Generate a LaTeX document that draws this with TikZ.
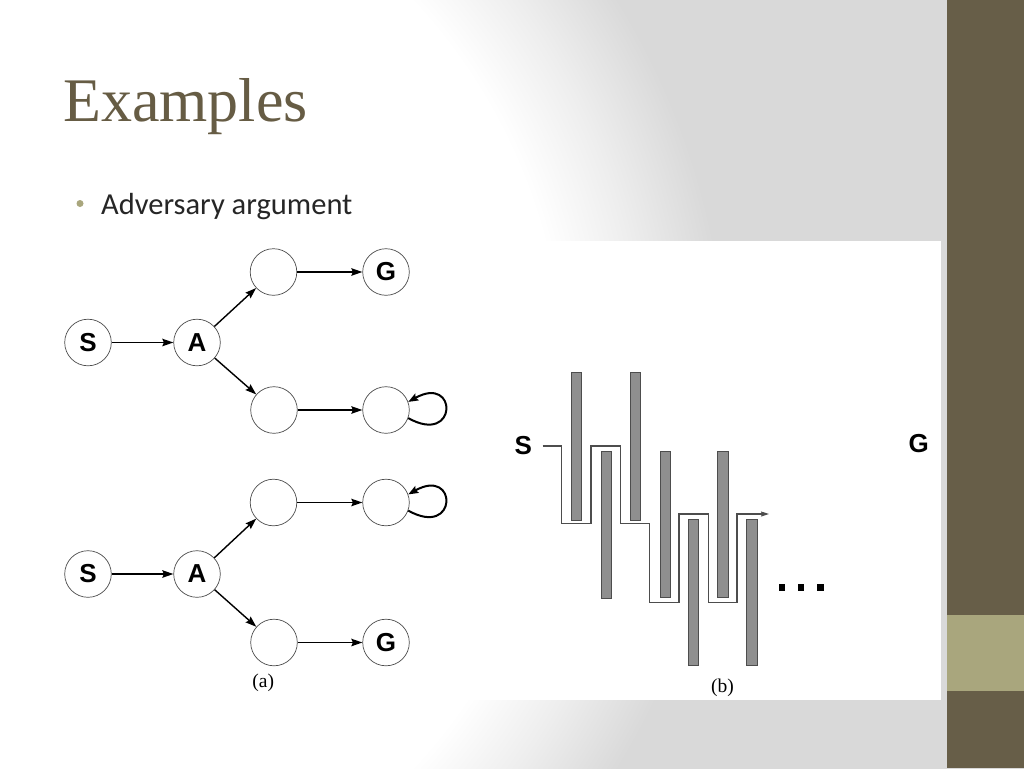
\documentclass[tikz,border=0pt]{standalone}
\usepackage{fontspec}
\setmainfont{Liberation Serif}
\newfontfamily\bodyfont{Carlito}
\newfontfamily\figfont{Liberation Sans}
\usetikzlibrary{arrows.meta}
\definecolor{bggray}{HTML}{D9D9D9}
\colorlet{bgmid}{bggray!45!white}
\definecolor{sidebar}{HTML}{675E48}
\definecolor{band}{HTML}{A9A67D}
\definecolor{titlecol}{HTML}{665C44}
\definecolor{bulletcol}{HTML}{A9A67D}
\definecolor{textcol}{HTML}{262626}
\definecolor{barfill}{HTML}{8F8F8F}
\definecolor{edgegray}{HTML}{4D4D4D}
\pgfdeclareradialshading{bgshade}{\pgfpointorigin}{color(0bp)=(white); color(560bp)=(white); color(640bp)=(bgmid); color(725bp)=(bggray); color(1100bp)=(bggray)}
\tikzset{
  st/.style={circle, draw=edgegray, line width=0.7pt, minimum size=46.6pt, inner sep=0pt,
    font=\figfont\bfseries\fontsize{26}{26}\selectfont},
  arr/.style={-{Stealth[length=11pt,width=7.5pt,inset=1.5pt]}, line width=1.4pt, black},
  loopline/.style={-{Stealth[length=10pt,width=7.5pt,inset=1.5pt]}, line width=2pt, black},
  bar/.style={fill=barfill, draw=edgegray, line width=0.8pt},
  maze/.style={draw=edgegray, line width=1.1pt, -{Stealth[length=8pt,width=5pt,inset=1pt]}},
  lbl/.style={inner sep=0pt, font=\fontsize{19.5}{19.5}\selectfont},
  bigletter/.style={inner sep=0pt, font=\figfont\bfseries\fontsize{26}{26}\selectfont}
}
\begin{document}
\begin{tikzpicture}[x=1pt,y=-1pt]
\useasboundingbox (0,0) rectangle (1024,768);
% background
\begin{scope}
\clip (0,0) rectangle (1024,768);
\node[inner sep=0pt,outer sep=0pt] (bg) at (0,384) {\pgfuseshading{bgshade}};
\end{scope}
\fill[white] (40,241) rectangle (941,700);
\fill[sidebar] (947,0) rectangle (1024,768);
\fill[band] (947,615) rectangle (1024,691);
% title and bullet
\node[anchor=base west, inner sep=0pt, text=titlecol, font=\fontsize{62}{62}\selectfont] (title) at (63,121) {Examples};
\node[circle, fill=bulletcol, inner sep=0pt, minimum size=7pt] (dot) at (80,203.5) {};
\node[anchor=base west, inner sep=0pt, text=textcol, font=\bodyfont\fontsize{30.5}{30.5}\selectfont] (bul) at (101,214) {Adversary argument};
% graph (a), top
\node[st] (S1) at (88,342.5) {S};
\node[st] (A1) at (197,342.5) {A};
\node[st] (U1) at (273.5,272) {};
\node[st] (G1) at (386,272) {G};
\node[st] (D1) at (274,410) {};
\node[st] (L1) at (386,410) {};
\draw[arr] (S1) -- (A1);
\draw[arr] (A1) -- (U1);
\draw[arr] (A1) -- (D1);
\draw[arr] (U1) -- (G1);
\draw[arr] (D1) -- (L1);
\draw[loopline] (L1.-20) .. controls (458,446) and (458,374) .. (L1.20);
% graph (a), bottom
\node[st] (S2) at (88,574) {S};
\node[st] (A2) at (197,574) {A};
\node[st] (U2) at (273.5,502.5) {};
\node[st] (L2) at (386,502.5) {};
\node[st] (D2) at (274,642.5) {};
\node[st] (G2) at (386,642.5) {G};
\draw[arr] (S2) -- (A2);
\draw[arr] (A2) -- (U2);
\draw[arr] (A2) -- (D2);
\draw[arr] (U2) -- (L2);
\draw[arr] (D2) -- (G2);
\draw[loopline] (L2.-20) .. controls (458,538.5) and (458,466.5) .. (L2.20);
\node[lbl] (la) at (263.3,682.5) {(a)};
% panel (b)
\node[bigletter] (Sb) at (523.3,446) {S};
\node[bigletter] (Gb) at (918.8,443.5) {G};
\draw[bar] (571,372) rectangle (581,520);
\draw[bar] (601,451) rectangle (611,598);
\draw[bar] (630,372) rectangle (640,520);
\draw[bar] (660,451) rectangle (670,597.5);
\draw[bar] (688.5,519.3) rectangle (698.7,665.7);
\draw[bar] (717.5,451) rectangle (728,597.5);
\draw[bar] (746.7,519.3) rectangle (757,665.7);
\draw[maze] (542.5,446) -- (561.7,446) -- (561.7,523.7) -- (591,523.7) -- (591,446)
  -- (620.3,446) -- (620.3,523.7) -- (649.3,523.7) -- (649.3,602.3) -- (679,602.3)
  -- (679,514) -- (708.3,514) -- (708.3,602.3) -- (737,602.3) -- (737,514) -- (769,514);
\fill[black] (778.5,584.3) rectangle (785,590.7);
\fill[black] (797.8,584.3) rectangle (804.3,590.7);
\fill[black] (817.3,584.3) rectangle (823.8,590.7);
\node[lbl] (lb) at (722.5,688.3) {(b)};
\end{tikzpicture}
\end{document}
